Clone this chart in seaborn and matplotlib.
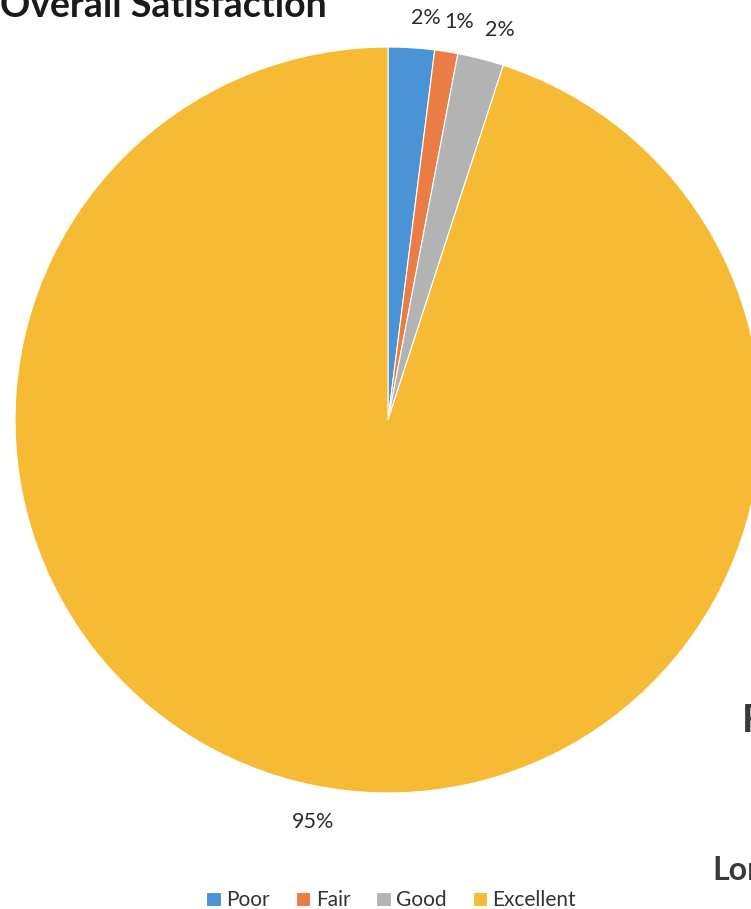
import matplotlib
matplotlib.use("Agg")
import matplotlib.pyplot as plt
import seaborn as sns

# data
categories = ["Poor", "Fair", "Good", "Excellent"]
shares = [2, 1, 2, 95]
colors = ["#4A94D6", "#EA7D45", "#B3B3B3", "#F6BA35"]

sns.set_theme(style="white")
plt.rcParams["font.family"] = ["Lato", "DejaVu Sans"]

fig = plt.figure(figsize=(7.51, 9.09), dpi=100)
ax = fig.add_axes([0.02, 0.1276, 0.9933, 0.8207])

wedges, texts, autotexts = ax.pie(
    shares,
    colors=colors,
    startangle=90,
    counterclock=False,
    autopct="%.0f%%",
    pctdistance=1.08,
    radius=1.0,
    wedgeprops=dict(edgecolor="white", linewidth=0.8),
    textprops=dict(fontsize=15.5, color="#2b2b2b"),
)
# excel spreads the small labels a bit
for t, dx, dy in zip(autotexts, [0.035, 0.022, 0.032, -0.032],
                     [0, 0, 0, -0.012]):
    x, y = t.get_position()
    t.set_position((x + dx, y + dy))

ax.set_xlim(-1, 1)
ax.set_ylim(-1, 1)
ax.set_aspect("equal")
ax.axis("off")

# title, top of it is cut off in the scan
fig.text(0.0, 0.981, "Overall Satisfaction", fontsize=27, fontweight="bold",
         color="#1a1a1a", ha="left", va="baseline")

fig.legend(wedges, categories, loc="lower center", ncol=4, frameon=False,
           bbox_to_anchor=(0.521, -0.022), fontsize=15, handlelength=0.7,
           handleheight=0.7, handletextpad=0.25, columnspacing=1.25,
           labelcolor="#333333")

# bits of the next page showing at the right edge
fig.text(0.988, 0.195, "F", fontsize=28, fontweight="bold", color="#3a3a3a",
         ha="left", va="baseline")
fig.text(0.949, 0.032, "Lor", fontsize=23, fontweight="bold",
         color="#3a3a3a", ha="left", va="baseline")

fig.savefig("out.png", dpi=100, facecolor="white")
